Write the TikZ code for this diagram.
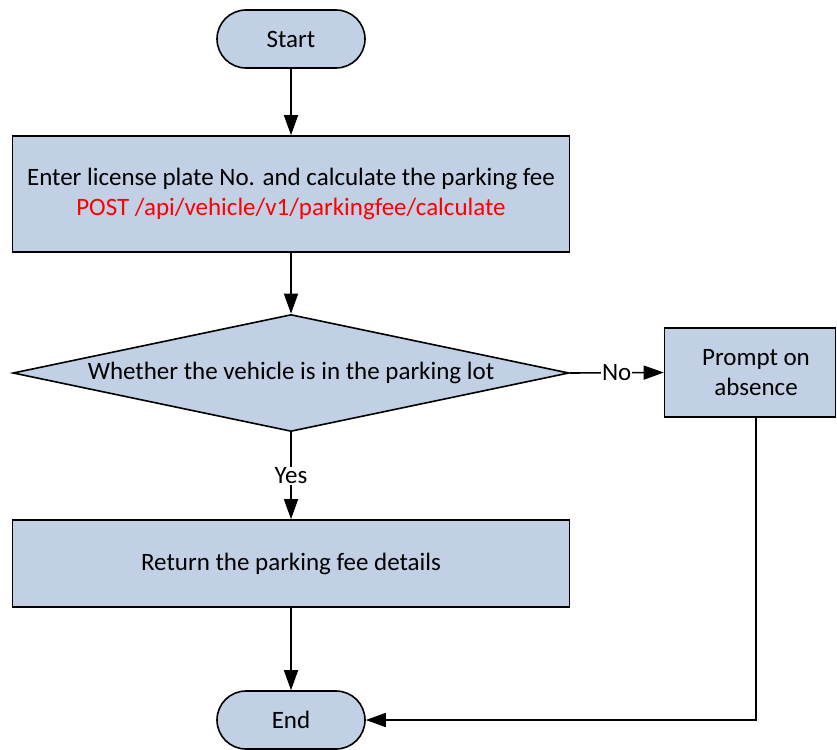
\documentclass[tikz,border=0pt]{standalone}
\usepackage{fontspec}
\setmainfont{Carlito}
\usetikzlibrary{arrows.meta,shapes.geometric}
\definecolor{boxfill}{RGB}{193,208,228}
\definecolor{apired}{RGB}{255,0,0}
\begin{document}
\begin{tikzpicture}[x=1pt,y=-1pt,
  base/.style={draw=black,line width=1.6pt,fill=boxfill,inner sep=0pt,align=center,
    font=\fontsize{25}{30}\selectfont},
  term/.style={base,rectangle,rounded corners=29pt,minimum width=148pt,minimum height=58pt},
  proc/.style={base,rectangle},
  decis/.style={base,diamond,aspect=4.75},
  arr/.style={line width=1.6pt,-{Triangle[length=20pt,width=14pt]}},
  lbl/.style={fill=white,inner sep=1pt,font=\fontsize{25}{30}\selectfont}]
\useasboundingbox (0,0) rectangle (837,749);
\node[term] (start) at (291,39) {Start};
\node[proc,minimum width=557pt,minimum height=116pt] (calc) at (291,194)
  {Enter license plate No. and calculate the parking fee\\ \textcolor{apired}{POST /api/vehicle/v1/parkingfee/calculate}};
\node[decis,minimum width=556pt,minimum height=117pt] (dec) at (291,373) {Whether the vehicle is in the parking lot};
\node[proc,minimum width=171pt,minimum height=89pt] (prompt) at (750,372.5) {\hspace*{12pt}Prompt on\\\hspace*{12pt}absence};
\node[proc,minimum width=557pt,minimum height=87pt] (ret) at (291,563.5) {Return the parking fee details};
\node[term] (end) at (291,720) {End};
\draw[arr] (start) -- (calc);
\draw[arr] (calc) -- (dec);
\draw[arr] (dec.east) -- node[lbl] {No} (prompt.west);
\draw[arr] (dec.south) -- node[lbl] {Yes} (ret.north);
\draw[arr] (ret) -- (end);
\draw[arr] ([xshift=6pt]prompt.south) |- (end.east);
\end{tikzpicture}
\end{document}
